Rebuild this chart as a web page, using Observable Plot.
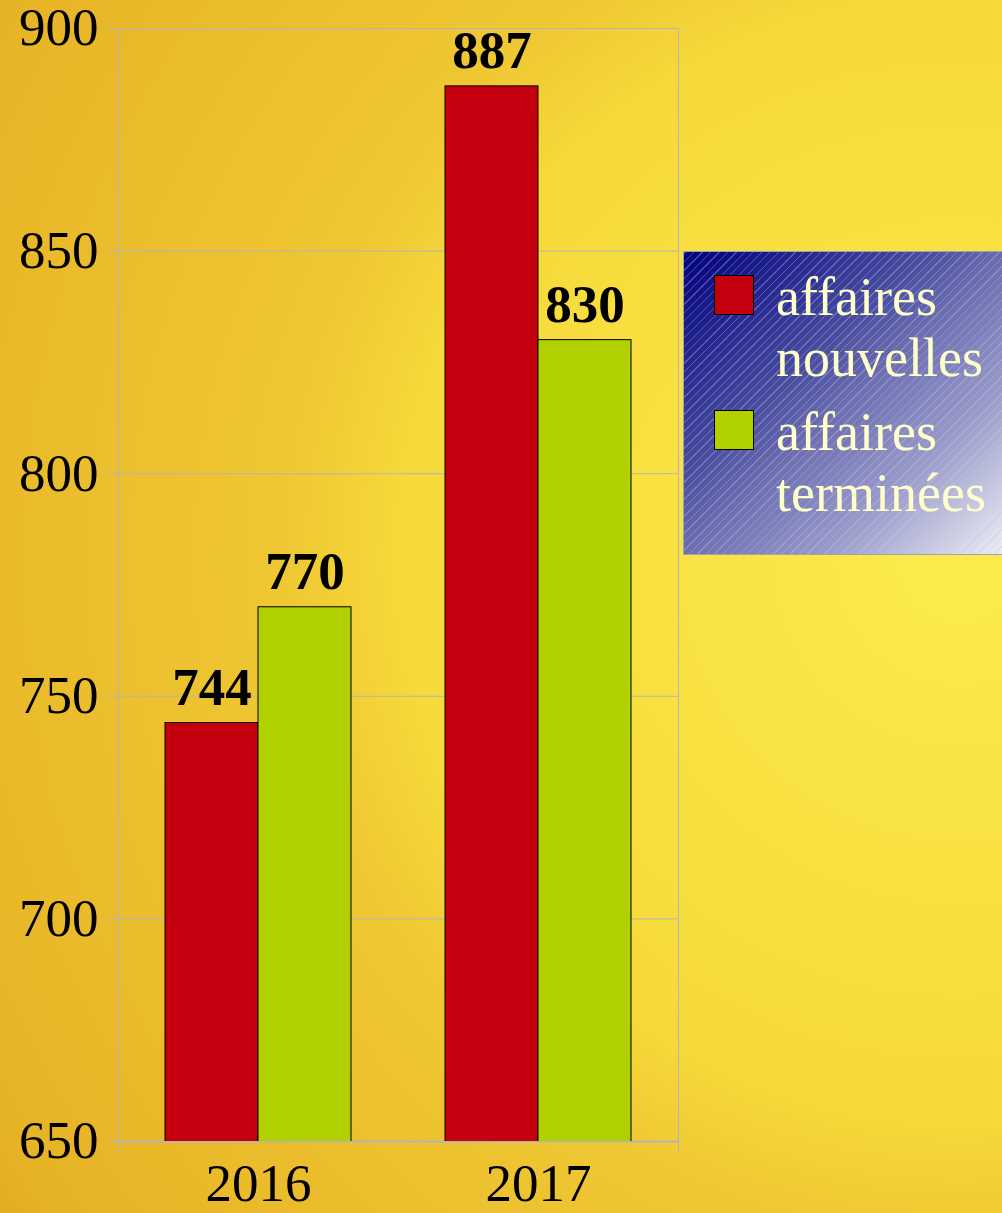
<!DOCTYPE html>
<html>
<head>
<meta charset="utf-8">
<script src="https://cdn.jsdelivr.net/npm/d3@7"></script>
<script src="https://cdn.jsdelivr.net/npm/@observablehq/plot@0.6"></script>
<style>
  html, body { margin: 0; padding: 0; }
  body {
    width: 1002px; height: 1213px; overflow: hidden; position: relative;
    background: radial-gradient(circle at 960px 560px, #fdeb4c 0px, #f6d93a 560px, #efc733 680px, #e7b326 1110px, #e0a820 1200px);
    font-family: "Liberation Serif", "Times New Roman", serif;
  }
  #chart { position: absolute; left: 0; top: 0; }
  #legend {
    position: absolute; left: 683px; top: 251px; width: 330px; height: 304px;
    box-sizing: border-box; border: 1px solid #a0a0b8;
    background:
      repeating-linear-gradient(-45deg, rgba(200,200,210,0.35) 0px, rgba(200,200,210,0.35) 1px, rgba(0,0,0,0) 1px, rgba(0,0,0,0) 6px),
      linear-gradient(to bottom right, #000080 0%, #4a4fa2 38%, #6c6eb2 50%, #9a9ccc 72%, #f2f2f7 100%);
  }
  .sw { position: absolute; left: 30px; width: 40px; height: 40px; box-sizing: border-box; border: 1px solid #000; }
  .lbl { position: absolute; left: 92px; color: #ffffcc; font-size: 54px; line-height: 61px; white-space: nowrap; }
</style>
</head>
<body>
<div id="chart"></div>
<div id="legend"></div>
<script>
const years = ["2016", "2017"];
const seriesNames = ["affaires nouvelles", "affaires terminées"];
const seriesLines = [["affaires", "nouvelles"], ["affaires", "terminées"]];
const nouvelles = [744, 887];
const terminees = [770, 830];
const seriesColors = ["#c5000e", "#b0d000"];
const yDomain = [650, 900];
const yTicks = [650, 700, 750, 800, 850, 900];

const rows = [];
years.forEach((yr, i) => {
  rows.push({year: yr, series: seriesNames[0], value: nouvelles[i]});
  rows.push({year: yr, series: seriesNames[1], value: terminees[i]});
});

const gridColor = "#b4b4bc";
const font = "Liberation Serif, Times New Roman, serif";

const chart = Plot.plot({
  width: 1002,
  height: 1213,
  marginLeft: 117,
  marginRight: 324,
  marginTop: 28,
  marginBottom: 72,
  style: {background: "transparent", fontFamily: font, color: "#000", overflow: "visible"},
  fx: {domain: years, paddingInner: 0, paddingOuter: 0, label: null},
  x: {domain: seriesNames, paddingInner: 0, paddingOuter: 0.5, axis: null},
  y: {domain: yDomain, ticks: yTicks, label: null},
  color: {domain: seriesNames, range: seriesColors},
  marks: [
    Plot.ruleY(yTicks, {stroke: gridColor, strokeWidth: 1}),
    Plot.ruleY([yDomain[0]], {stroke: gridColor, strokeWidth: 2}),
    Plot.frame({anchor: "left", facetAnchor: "left", stroke: gridColor, insetBottom: -11}),
    Plot.frame({anchor: "right", facetAnchor: "right", stroke: gridColor, insetBottom: -11}),
    Plot.axisY({ticks: yTicks, tickSize: 11, tickPadding: 9, fontSize: 53, stroke: gridColor, color: "#000", label: null}),
    Plot.axisFx({anchor: "bottom", tickSize: 0, tickPadding: 22, fontSize: 53, label: null}),
    Plot.barY(rows, {fx: "year", x: "series", y: "value", fill: "series", stroke: "#000", strokeWidth: 1, clip: true}),
    Plot.text(rows, {fx: "year", x: "series", y: "value", text: d => String(d.value), dy: -18, lineAnchor: "bottom", fontSize: 53, fontWeight: "bold", fill: "#000"})
  ]
});
document.getElementById("chart").appendChild(chart);

const legend = document.getElementById("legend");
const swTops = [23, 158];
seriesNames.forEach((s, i) => {
  const sw = document.createElement("div");
  sw.className = "sw";
  sw.style.top = swTops[i] + "px";
  sw.style.background = seriesColors[i];
  legend.appendChild(sw);
  const lbl = document.createElement("div");
  lbl.className = "lbl";
  lbl.style.top = (swTops[i] - 8) + "px";
  lbl.innerHTML = seriesLines[i].join("<br>");
  legend.appendChild(lbl);
});
</script>
</body>
</html>
